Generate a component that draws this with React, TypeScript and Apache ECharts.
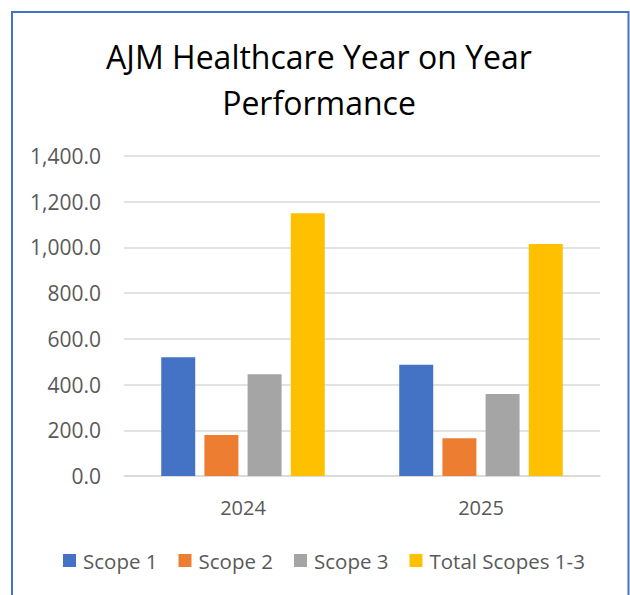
import React, { useEffect, useRef } from "react";
import * as echarts from "echarts";

const TITLE_LINES = ["AJM Healthcare Year on Year", "Performance"];
const CATEGORIES = ["2024", "2025"];
const SERIES_NAMES = ["Scope 1", "Scope 2", "Scope 3", "Total Scopes 1-3"];
const SCOPE1 = [519, 487];
const SCOPE2 = [179, 165];
const SCOPE3 = [445, 359];
const TOTAL = [1150, 1015];
const Y_MIN = 0;
const Y_MAX = 1400;
const Y_STEP = 200;

const COLORS = ["#4472C4", "#ED7D31", "#A5A5A5", "#FFC000"];
const FONT = "Open Sans";
const TEXT_GRAY = "#595959";

const fmt = new Intl.NumberFormat("en-US", {
  minimumFractionDigits: 1,
  maximumFractionDigits: 1,
});

export default function App() {
  const ref = useRef<HTMLDivElement>(null);

  useEffect(() => {
    if (!ref.current) return;
    const chart = echarts.init(ref.current, null, { renderer: "svg" });
    const values = [SCOPE1, SCOPE2, SCOPE3, TOTAL];
    chart.setOption({
      animation: false,
      backgroundColor: "#ffffff",
      title: {
        text: TITLE_LINES.join("\n"),
        left: 319,
        top: 33,
        textAlign: "center",
        padding: 0,
        textStyle: {
          fontFamily: FONT,
          fontSize: 32,
          fontWeight: "normal",
          color: "#000000",
          lineHeight: 46,
        },
      },
      graphic: [
        {
          type: "rect",
          shape: { x: 12, y: 12, width: 616.5, height: 620 },
          style: { fill: "none", stroke: "#4472C4", lineWidth: 2 },
          silent: true,
        },
      ],
      legend: {
        data: SERIES_NAMES,
        left: 63,
        top: 550,
        itemWidth: 13,
        itemHeight: 13,
        itemGap: 21,
        icon: "rect",
        padding: 0,
        textStyle: {
          fontFamily: FONT,
          fontSize: 20.5,
          color: TEXT_GRAY,
          padding: [0, 0, 0, 2],
        },
      },
      grid: {
        left: 124,
        right: 30,
        top: 156,
        bottom: 119,
        containLabel: false,
      },
      xAxis: {
        type: "category",
        data: CATEGORIES,
        axisTick: { show: false },
        axisLine: { show: true, lineStyle: { color: "#d9d9d9", width: 1.5 } },
        axisLabel: {
          fontFamily: FONT,
          fontSize: 20,
          color: TEXT_GRAY,
          margin: 21,
        },
      },
      yAxis: {
        type: "value",
        min: Y_MIN,
        max: Y_MAX,
        interval: Y_STEP,
        axisLine: { show: false },
        axisTick: { show: false },
        splitLine: { lineStyle: { color: "#d9d9d9", width: 1.5 } },
        axisLabel: {
          fontFamily: FONT,
          fontSize: 21,
          color: TEXT_GRAY,
          margin: 23,
          padding: [6, 0, 0, 0],
          formatter: (v: number) => fmt.format(v),
        },
      },
      series: SERIES_NAMES.map((name, i) => ({
        name,
        type: "bar",
        data: values[i],
        barWidth: 34,
        barGap: "27%",
        itemStyle: { color: COLORS[i] },
      })),
    });
    return () => chart.dispose();
  }, []);

  return (
    <div
      ref={ref}
      style={{
        position: "absolute",
        left: 0,
        top: 0,
        width: 630,
        height: 595,
        background: "#ffffff",
      }}
    />
  );
}
